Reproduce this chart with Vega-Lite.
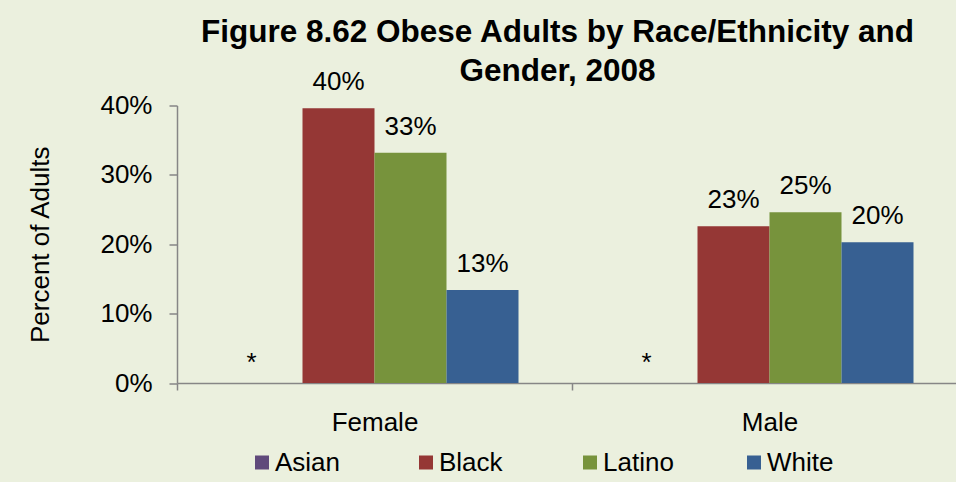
{
  "$schema": "https://vega.github.io/schema/vega-lite/v6.json",
  "autosize": {"type": "none"},
  "width": 779,
  "height": 277.5,
  "padding": {"left": 177, "top": 105.5, "right": 0, "bottom": 99},
  "background": "#EBF0DE",
  "title": {
    "text": ["Figure 8.62 Obese Adults by Race/Ethnicity and", "Gender, 2008"],
    "font": "Liberation Sans",
    "fontSize": 31.5,
    "fontWeight": "bold",
    "color": "#000000",
    "lineHeight": 39,
    "anchor": "middle",
    "dx": -9,
    "offset": -18
  },
  "config": {
    "font": "Liberation Sans",
    "view": {"stroke": null},
    "axis": {
      "domainColor": "#868686",
      "tickColor": "#868686",
      "domainWidth": 1.5,
      "tickWidth": 1.5,
      "grid": false,
      "labelFont": "Liberation Sans",
      "labelFontSize": 26,
      "labelColor": "#000000",
      "titleFont": "Liberation Sans",
      "titleFontSize": 26,
      "titleFontWeight": "normal",
      "titleColor": "#000000"
    }
  },
  "data": {
    "values": [
      {"sex": "Female", "race": "Asian", "value": null, "note": "*"},
      {"sex": "Female", "race": "Black", "value": 0.396, "note": null},
      {"sex": "Female", "race": "Latino", "value": 0.332, "note": null},
      {"sex": "Female", "race": "White", "value": 0.134, "note": null},
      {"sex": "Male", "race": "Asian", "value": null, "note": "*"},
      {"sex": "Male", "race": "Black", "value": 0.226, "note": null},
      {"sex": "Male", "race": "Latino", "value": 0.246, "note": null},
      {"sex": "Male", "race": "White", "value": 0.203, "note": null}
    ]
  },
  "encoding": {
    "x": {
      "field": "sex",
      "type": "nominal",
      "scale": {"domain": ["Female", "Male"], "range": [0, 790], "paddingInner": 0, "paddingOuter": 0},
      "axis": {"title": null, "labelAngle": 0, "tickBand": "extent", "tickSize": 7, "labelPadding": 19}
    },
    "xOffset": {
      "field": "race",
      "type": "nominal",
      "scale": {"domain": ["Asian", "Black", "Latino", "White"], "paddingInner": 0, "paddingOuter": 0.743}
    }
  },
  "layer": [
    {
      "mark": {"type": "bar"},
      "encoding": {
        "y": {
          "field": "value",
          "type": "quantitative",
          "scale": {"domain": [0, 0.4], "nice": false},
          "axis": {"title": "Percent of Adults", "format": ".0%", "values": [0, 0.1, 0.2, 0.3, 0.4], "tickSize": 8, "labelPadding": 17, "titlePadding": 46}
        },
        "color": {
          "field": "race",
          "type": "nominal",
          "scale": {"domain": ["Asian", "Black", "Latino", "White"], "range": ["#604A7B", "#953735", "#77933C", "#376092"]},
          "legend": {
            "title": null,
            "orient": "none",
            "direction": "horizontal",
            "columns": 4,
            "gridAlign": "all",
            "legendX": 72,
            "legendY": 344,
            "columnPadding": 67,
            "symbolType": "square",
            "symbolSize": 196,
            "symbolStrokeWidth": 0,
            "labelOffset": 0,
            "labelFont": "Liberation Sans",
            "labelFontSize": 26,
            "labelColor": "#000000",
            "padding": 0
          }
        }
      }
    },
    {
      "mark": {"type": "text", "baseline": "alphabetic", "dy": -18, "fontSize": 26, "color": "#000000", "font": "Liberation Sans"},
      "encoding": {
        "y": {"field": "value", "type": "quantitative"},
        "text": {"field": "value", "type": "quantitative", "format": ".0%"}
      }
    },
    {
      "transform": [{"filter": "datum.note != null"}],
      "mark": {"type": "text", "baseline": "alphabetic", "dy": -12, "dx": -15, "fontSize": 26, "color": "#000000", "font": "Liberation Sans"},
      "encoding": {
        "y": {"datum": 0, "type": "quantitative"},
        "text": {"field": "note", "type": "nominal"}
      }
    }
  ]
}
